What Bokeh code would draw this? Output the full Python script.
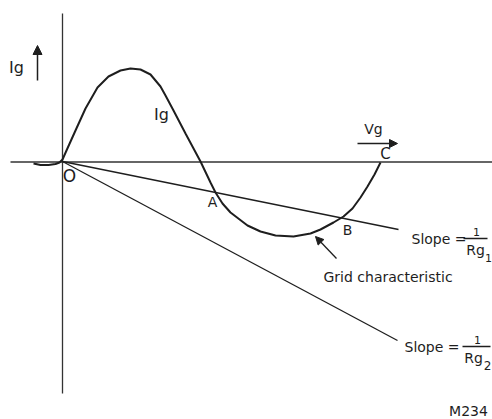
from bokeh.plotting import figure
from bokeh.models import Range1d, Label, Arrow, NormalHead
from bokeh.embed import file_html
from bokeh.resources import INLINE

# ---- data (diagram units) ----
# grid characteristic curve Ig(Vg)
curve_x = [33, 40, 48, 55, 59, 62, 66, 75, 85, 97, 108, 120, 130, 140, 150, 160, 165, 173,
           185, 200, 210, 215, 222, 230, 247, 260, 275, 293, 310, 320, 333, 343, 352, 360,
           367, 374, 380]
curve_y = [163, 164.5, 164.5, 163.5, 162, 159, 150, 130, 108, 87, 76, 70, 68, 69, 74, 86, 95, 110,
           133, 161, 182, 192, 203, 212, 225, 231, 235, 236, 233, 229, 222, 216, 208, 197,
           186, 174, 162]
# axes
axis_h_x = [10, 492]
axis_h_y = [161.5, 161.5]
axis_v_x = [62, 62]
axis_v_y = [13, 393]
# load lines from origin
line1_x = [62, 398]
line1_y = [161, 229]
line2_x = [62, 397]
line2_y = [161, 340]

INK = "#1e1e1e"
FONT = "DejaVu Sans"

p = figure(width=492, height=419, output_backend="svg", toolbar_location=None,
           x_range=Range1d(0, 492), y_range=Range1d(419, 0), min_border=0)
p.axis.visible = False
p.grid.visible = False
p.outline_line_color = None
p.background_fill_color = "white"
p.border_fill_color = "white"

p.line(axis_h_x, axis_h_y, line_color="#333333", line_width=1.3)
p.line(axis_v_x, axis_v_y, line_color="#333333", line_width=1.3)
p.line(line1_x, line1_y, line_color=INK, line_width=1.3)
p.line(line2_x, line2_y, line_color=INK, line_width=1.3)
p.line(curve_x, curve_y, line_color=INK, line_width=2)

# arrows
p.add_layout(Arrow(x_start=37, y_start=80, x_end=37, y_end=45, line_color=INK, line_width=1.5,
                   end=NormalHead(size=9, fill_color=INK, line_color=INK)))
p.add_layout(Arrow(x_start=357, y_start=143, x_end=397, y_end=143, line_color=INK, line_width=1.3,
                   end=NormalHead(size=8, fill_color=INK, line_color=INK)))
p.add_layout(Arrow(x_start=336, y_start=258, x_end=315, y_end=236, line_color=INK, line_width=1.3,
                   end=NormalHead(size=8, fill_color=INK, line_color=INK)))

# fraction bars
p.segment(x0=[463, 462], y0=[238, 346], x1=[487, 490], y1=[238, 346], line_color=INK, line_width=1.3)


def lab(x, y, t, size=14, align="center"):
    p.add_layout(Label(x=x, y=y, text=t, text_font=FONT, text_font_size=f"{size}px",
                       text_color=INK, text_align=align, text_baseline="middle"))


lab(16, 67, "Ig", 16)
lab(161, 114, "Ig", 16)
lab(69, 175, "O", 17)
lab(212, 201, "A", 14)
lab(347, 229, "B", 14)
lab(385, 153, "C", 15)
lab(373, 128, "Vg", 14)

lab(411, 238, "Slope =", 14, "left")
lab(476, 231, "1", 11)
lab(475, 249, "Rg", 14)
lab(488, 257, "1", 11)

lab(404, 346, "Slope =", 14, "left")
lab(477, 339, "1", 11)
lab(473, 357, "Rg", 14)
lab(487, 365, "2", 12)

lab(323, 276, "Grid characteristic", 14, "left")
lab(468, 410, "M234", 14)

open("out.html", "w").write(file_html(p, INLINE))
